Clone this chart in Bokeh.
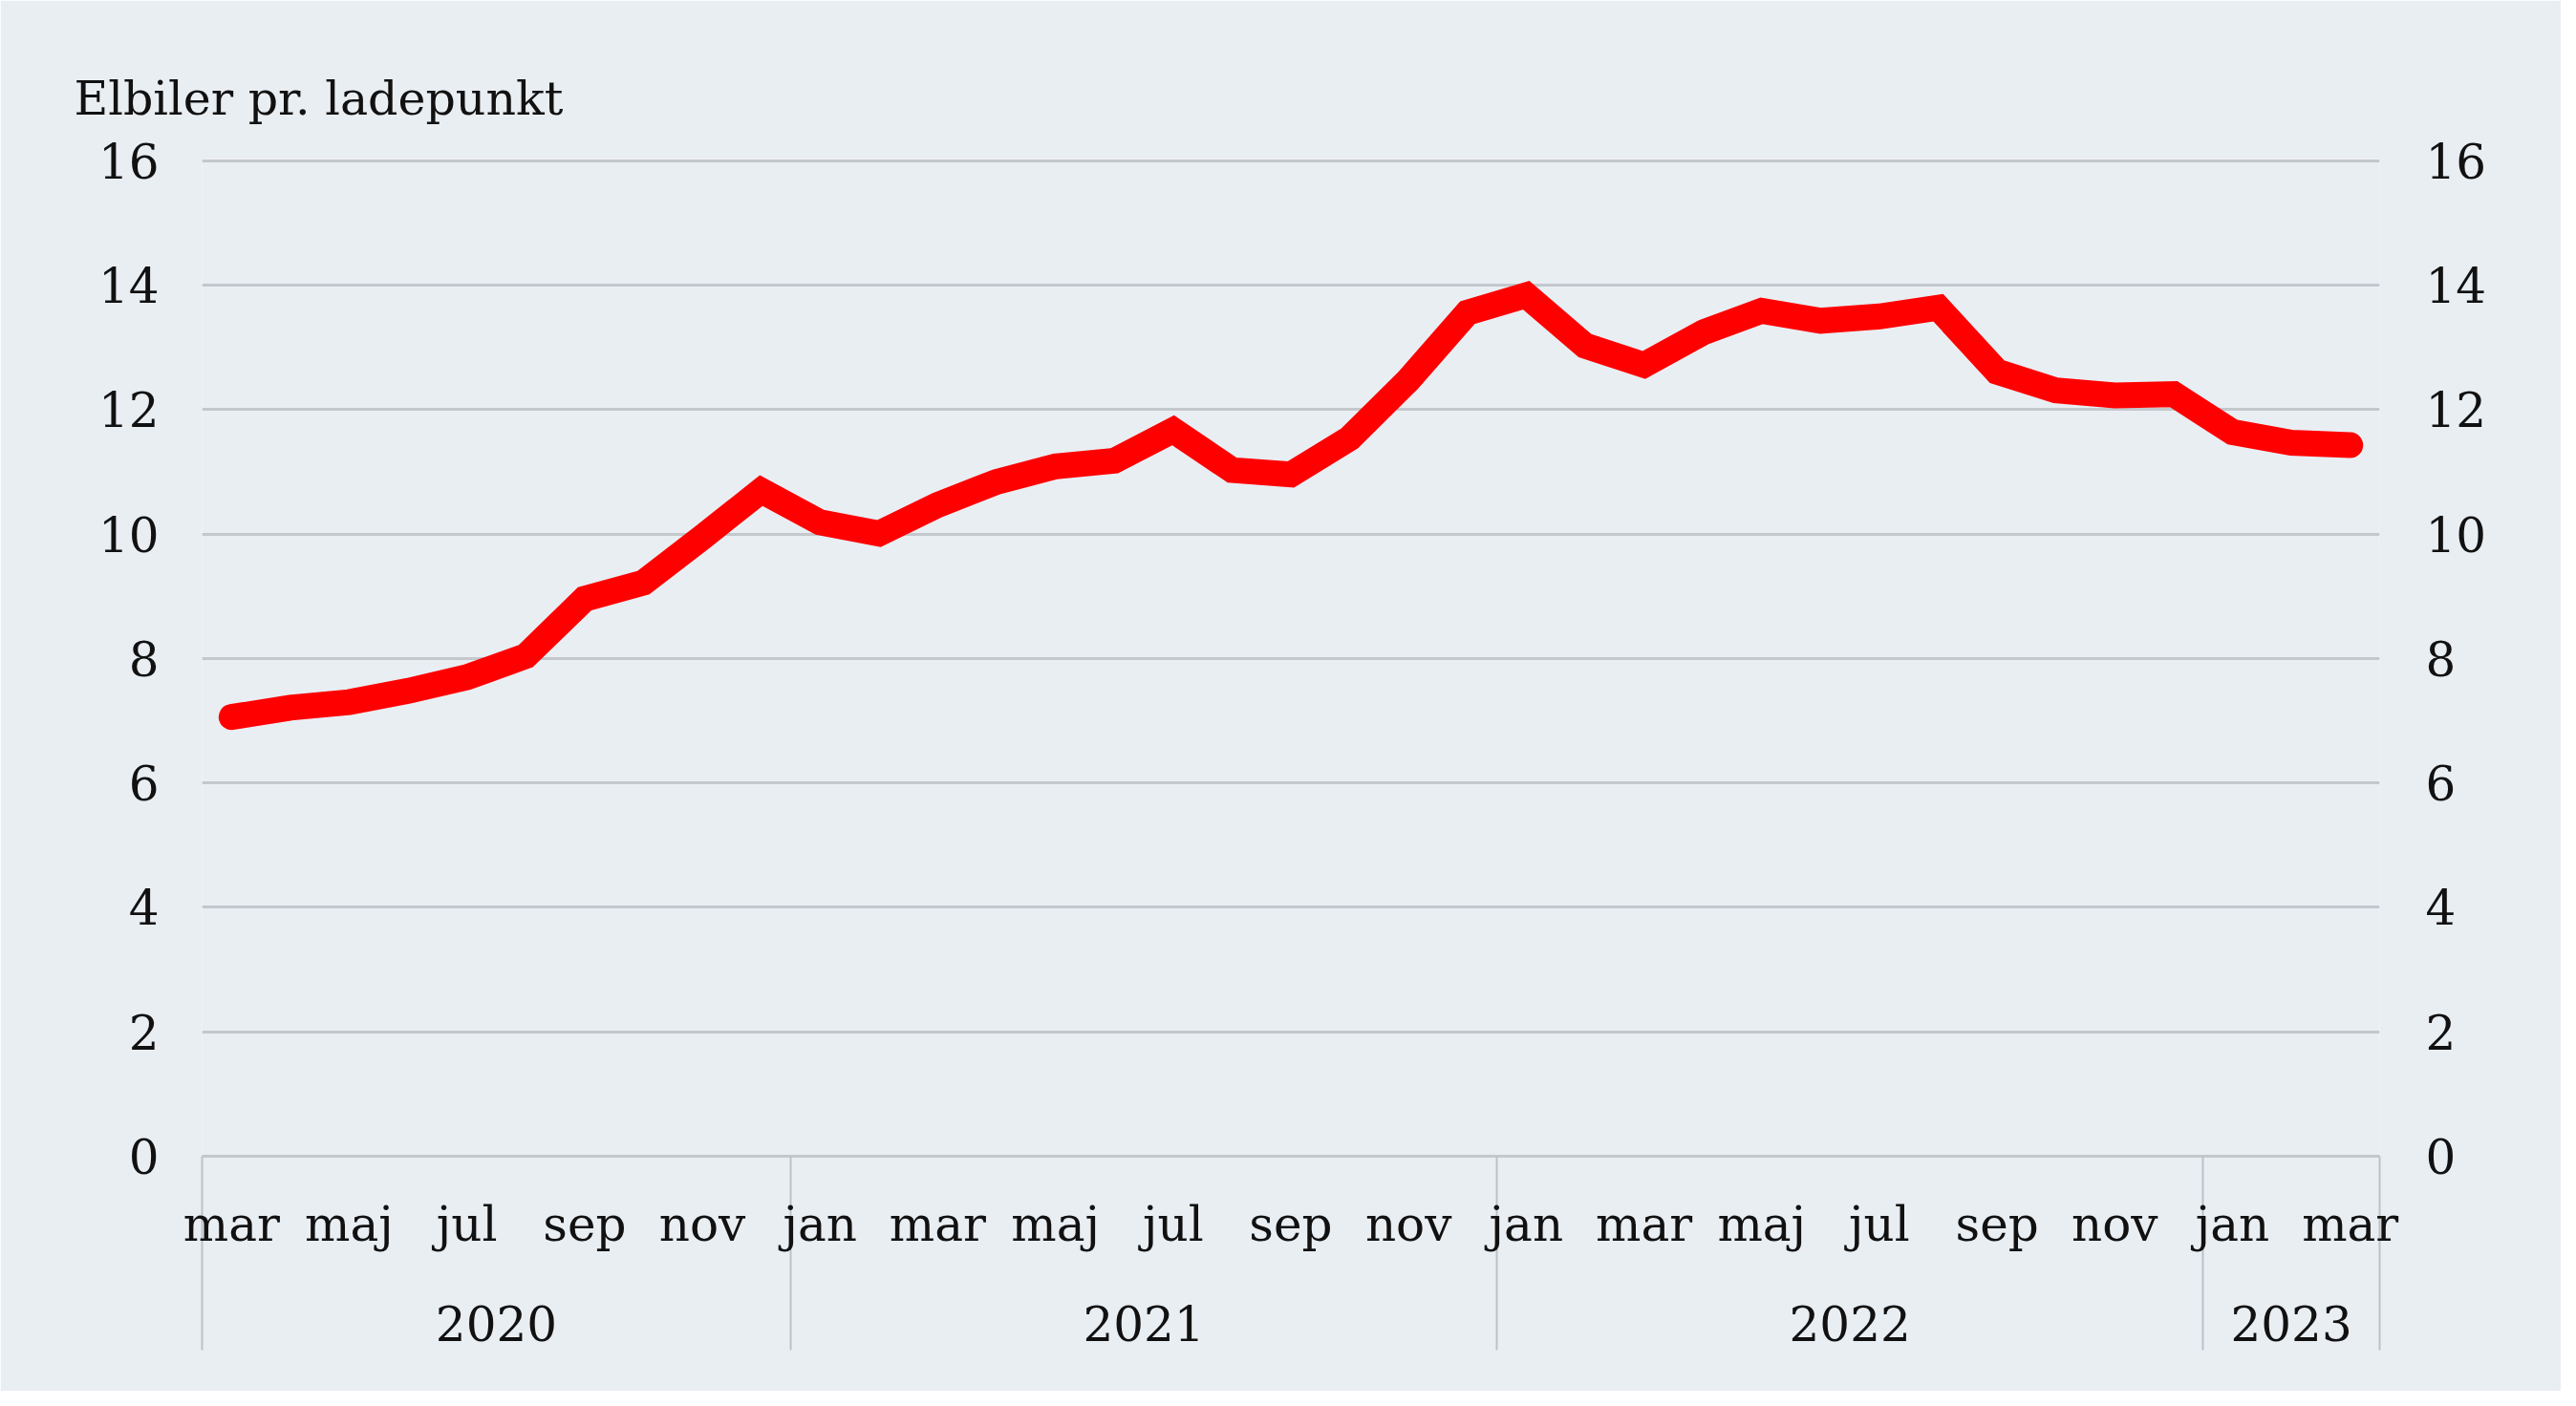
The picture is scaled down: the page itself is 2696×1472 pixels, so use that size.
from bokeh.plotting import figure
from bokeh.models import LinearAxis, FixedTicker, Range1d
from bokeh.embed import file_html
from bokeh.resources import INLINE

# ---- data ----
months = ["mar", "apr", "maj", "jun", "jul", "aug", "sep", "okt", "nov", "dec",
          "jan", "feb", "mar", "apr", "maj", "jun", "jul", "aug", "sep", "okt", "nov", "dec",
          "jan", "feb", "mar", "apr", "maj", "jun", "jul", "aug", "sep", "okt", "nov", "dec",
          "jan", "feb", "mar"]
values = [7.06, 7.21, 7.30, 7.48, 7.70, 8.04, 8.96, 9.22, 9.95, 10.70,
          10.19, 10.01, 10.47, 10.84, 11.09, 11.18, 11.67, 11.03, 10.96, 11.54, 12.48, 13.56,
          13.84, 13.03, 12.72, 13.24, 13.59, 13.43, 13.50, 13.64, 12.61, 12.31, 12.23, 12.25,
          11.64, 11.47, 11.43]
years = ["2020", "2021", "2022", "2023"]
year_months = [10, 12, 12, 3]          # number of months per year in the series
y_ticks = [0, 2, 4, 6, 8, 10, 12, 14, 16]
title_text = "Elbiler pr. ladepunkt"

# ---- style ----
BG = "#E9EEF3"
GRID = "#C4C7CB"
SEP = "#BDC1C5"
RED = "#FF0000"
FONT = "DejaVu Serif"
FS = "50px"
SEP_LEN = 203

n = len(values)
idx = list(range(n))

# year boundaries / centres derived from month counts
bounds = [-0.5]
centres = []
start = 0
for c in year_months:
    centres.append(start + (c - 1) / 2)
    start += c
    bounds.append(start - 0.5)
minor_bounds = [bounds[0] + 0.001] + bounds[1:-1] + [bounds[-1] - 0.001]

p = figure(width=2680, height=1456,
           x_range=Range1d(-0.5, n - 0.5), y_range=Range1d(0, 16.03),
           output_backend="svg", toolbar_location=None,
           x_axis_location=None, y_axis_location="left",
           min_border_left=211, min_border_right=190,
           min_border_top=166, min_border_bottom=246,
           background_fill_color=BG, border_fill_color=BG,
           outline_line_color=None)

p.title.text = title_text
p.title.text_font = FONT
p.title.text_font_size = "49px"
p.title.text_font_style = "normal"
p.title.text_color = "#111111"
p.title.align = "left"
p.title.offset = -134
p.title.standoff = 69

# left axis
ya = p.yaxis[0]
ya.ticker = FixedTicker(ticks=y_ticks)
ya.axis_line_color = None
ya.major_tick_line_color = None
ya.minor_tick_line_color = None
ya.major_label_standoff = 39
ya.major_label_text_font = FONT
ya.major_label_text_font_size = FS
ya.major_label_text_color = "#111111"

# right axis
ra = LinearAxis(ticker=FixedTicker(ticks=y_ticks))
ra.axis_line_color = None
ra.major_tick_line_color = None
ra.minor_tick_line_color = None
ra.major_label_standoff = 42
ra.major_label_text_font = FONT
ra.major_label_text_font_size = FS
ra.major_label_text_color = "#111111"
p.add_layout(ra, "right")

# grid
p.xgrid.visible = False
p.ygrid.ticker = FixedTicker(ticks=y_ticks)
p.ygrid.grid_line_color = GRID
p.ygrid.grid_line_width = 3

# month axis (every other month) with year separators as minor ticks
shown = [i for i in idx if i % 2 == 0]
ma = LinearAxis(ticker=FixedTicker(ticks=shown, minor_ticks=minor_bounds),
                major_label_overrides={i: months[i] for i in shown})
ma.axis_line_color = GRID
ma.axis_line_width = 3
ma.major_tick_in = 0
ma.major_tick_out = 0
ma.minor_tick_in = 0
ma.minor_tick_out = SEP_LEN
ma.minor_tick_line_color = SEP
ma.minor_tick_line_width = 2
ma.major_label_standoff = 42 - SEP_LEN
ma.major_label_text_font = FONT
ma.major_label_text_font_size = FS
ma.major_label_text_color = "#111111"
p.add_layout(ma, "below")

# year axis
yr = LinearAxis(ticker=FixedTicker(ticks=centres),
                major_label_overrides={c: y for c, y in zip(centres, years)})
yr.axis_line_color = None
yr.major_tick_line_color = None
yr.minor_tick_line_color = None
yr.major_label_standoff = 47
yr.major_label_text_font = FONT
yr.major_label_text_font_size = FS
yr.major_label_text_color = "#111111"
p.add_layout(yr, "below")

p.line(x=idx, y=values, line_color=RED, line_width=27,
       line_cap="round", line_join="miter")

open("out.html", "w").write(file_html(p, INLINE))
